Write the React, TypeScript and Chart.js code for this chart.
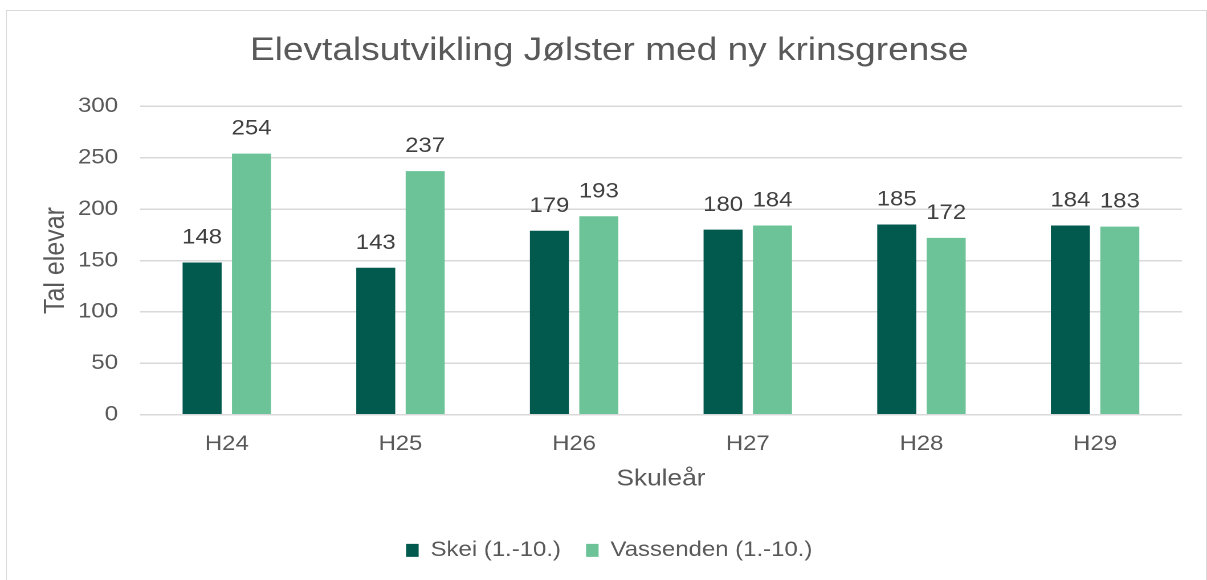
import React, { useEffect, useRef } from "react";
import { Chart, registerables } from "chart.js";

Chart.register(...registerables);

// ---- data ----
const categories = ["H24", "H25", "H26", "H27", "H28", "H29"];
const skeiValues = [148, 143, 179, 180, 185, 184];
const vassendenValues = [254, 237, 193, 184, 172, 183];
const seriesNames = ["Skei (1.-10.)", "Vassenden (1.-10.)"];
const yTickValues = [0, 50, 100, 150, 200, 250, 300];
const chartTitle = "Elevtalsutvikling Jølster med ny krinsgrense";
const xAxisTitle = "Skuleår";
const yAxisTitle = "Tal elevar";

// ---- styling ----
const CANVAS_W = 1059;
const CANVAS_H = 580;
const STRETCH = 1207 / CANVAS_W;
const FONT = "'Liberation Sans', Arial, Helvetica, sans-serif";
const TEXT = "#595959";
const DARK = "#02594e";
const LIGHT = "#6cc398";

const dataLabels = {
  id: "dataLabels",
  afterDatasetsDraw(chart: any) {
    const ctx = chart.ctx;
    ctx.save();
    ctx.font = `21px ${FONT}`;
    ctx.fillStyle = "#404040";
    ctx.textAlign = "center";
    ctx.textBaseline = "middle";
    chart.data.datasets.forEach((ds: any, i: number) => {
      const meta = chart.getDatasetMeta(i);
      meta.data.forEach((el: any, j: number) => {
        ctx.fillText(String(ds.data[j]), el.x, el.y - 24.7);
      });
    });
    ctx.restore();
  },
};

export default function App() {
  const ref = useRef<HTMLCanvasElement>(null);

  useEffect(() => {
    if (!ref.current) return;
    const chart = new Chart(ref.current, {
      type: "bar",
      data: {
        labels: categories,
        datasets: [
          {
            label: seriesNames[0],
            data: skeiValues,
            backgroundColor: DARK,
            borderWidth: 0,
            categoryPercentage: 0.569,
            barPercentage: 0.79,
          },
          {
            label: seriesNames[1],
            data: vassendenValues,
            backgroundColor: LIGHT,
            borderWidth: 0,
            categoryPercentage: 0.569,
            barPercentage: 0.79,
          },
        ],
      },
      options: {
        animation: false,
        responsive: false,
        devicePixelRatio: 2,
        layout: { padding: { left: 10, right: 0, top: 0, bottom: 9.1 } },
        plugins: {
          title: {
            display: true,
            text: chartTitle,
            color: TEXT,
            font: { family: FONT, size: 32.5, weight: "normal", lineHeight: 1.2 },
            padding: { top: 31.7, bottom: 35.6 },
          },
          legend: {
            display: true,
            position: "bottom",
            labels: {
              color: TEXT,
              font: { family: FONT, size: 21 },
              boxWidth: 11,
              boxHeight: 13,
              padding: 22,
            },
          },
          tooltip: { enabled: false },
        },
        scales: {
          x: {
            grid: { display: false, drawTicks: false },
            border: { display: false },
            ticks: { color: TEXT, font: { family: FONT, size: 21 }, padding: 16.7 },
            title: {
              display: true,
              text: xAxisTitle,
              color: TEXT,
              font: { family: FONT, size: 23 },
              padding: { top: 0, bottom: 25.1 },
            },
            afterFit: (s: any) => {
              s.height = 103.2;
            },
          },
          y: {
            min: 0,
            max: 300,
            grid: { color: "#d9d9d9", lineWidth: 1.5, drawTicks: false },
            border: { display: false },
            ticks: { color: TEXT, font: { family: FONT, size: 21 }, padding: 19.3 },
            afterBuildTicks: (s: any) => {
              s.ticks = yTickValues.map((v) => ({ value: v }));
            },
            title: {
              display: true,
              text: yAxisTitle,
              color: TEXT,
              font: { family: FONT, size: 25, lineHeight: 1.2 },
              padding: { top: 24.1, bottom: 0 },
            },
            afterFit: (s: any) => {
              s.width = 112.8;
            },
          },
          y2: {
            position: "right",
            display: true,
            grid: { display: false, drawTicks: false },
            border: { display: false },
            ticks: { display: false },
            afterFit: (s: any) => {
              s.width = 22;
            },
          },
        },
      },
      plugins: [dataLabels],
    } as any);
    return () => chart.destroy();
  }, []);

  return (
    <div
      style={{
        position: "absolute",
        left: 0,
        top: 0,
        width: 1207,
        height: 580,
        overflow: "hidden",
        background: "#ffffff",
      }}
    >
      <div
        style={{
          position: "absolute",
          left: 6,
          top: 10,
          width: 1201,
          height: 620,
          border: "1.5px solid #d9d9d9",
          boxSizing: "border-box",
        }}
      />
      <div
        style={{
          position: "absolute",
          left: 0,
          top: 0,
          width: CANVAS_W,
          height: CANVAS_H,
          transform: `scaleX(${STRETCH})`,
          transformOrigin: "0 0",
        }}
      >
        <canvas
          ref={ref}
          width={CANVAS_W}
          height={CANVAS_H}
          style={{ width: `${CANVAS_W}px`, height: `${CANVAS_H}px` }}
        />
      </div>
    </div>
  );
}
